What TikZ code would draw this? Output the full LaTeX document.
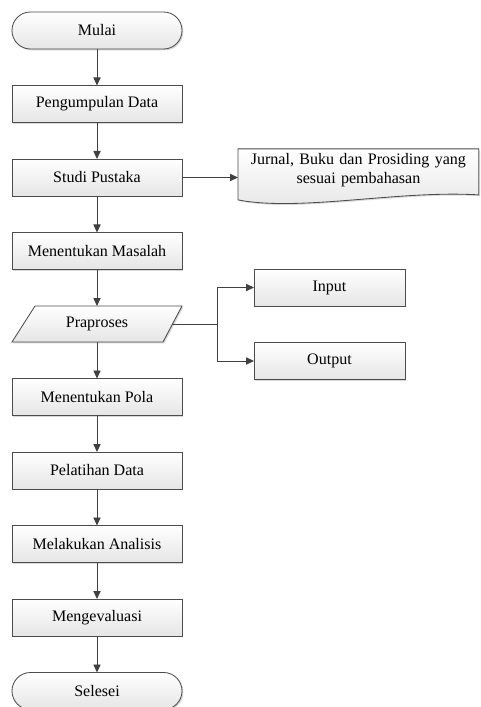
\documentclass[tikz,border=0pt]{standalone}
\usepackage{fontspec}
\setmainfont{Liberation Serif}
\usetikzlibrary{arrows.meta,positioning,backgrounds,shadows}

\begin{document}
\begin{tikzpicture}[
    node distance=9.125mm and 14mm,
    base/.style={draw=black!70, line width=0.6pt, align=center, minimum height=9.25mm,
        inner sep=1mm, outer sep=0pt, font=\fontsize{11.4}{13.6}\selectfont,
        top color=white, bottom color=black!10,
        drop shadow={shadow xshift=0.35mm, shadow yshift=-0.35mm, fill=black!30, opacity=0.5}},
    terminal/.style={base, minimum width=42.5mm, rounded corners=4.6mm},
    process/.style={base, minimum width=42.5mm},
    smallbox/.style={base, minimum width=37.75mm},
    iotext/.style={align=center, minimum width=42.5mm, minimum height=9mm, inner sep=0pt,
        outer sep=0pt, font=\fontsize{11.4}{13.6}\selectfont},
    docnode/.style={align=center, text width=56mm, minimum height=10.5mm, inner xsep=2.1mm,
        inner ysep=0pt, outer sep=0pt, font=\fontsize{11.4}{13.6}\selectfont},
    border/.style={draw=black!70, line width=0.6pt, top color=white, bottom color=black!10,
        drop shadow={shadow xshift=0.35mm, shadow yshift=-0.35mm, fill=black!30, opacity=0.5}},
    arrow/.style={-{Triangle[length=2mm, width=1.8mm]}, line width=0.7pt, draw=black!75}
]
\useasboundingbox (0,0) rectangle (120mm,-176.75mm);
\node[terminal] (mulai) at (24.25mm,-7.625mm) {Mulai};
\node[process, below=of mulai] (pengumpulan) {Pengumpulan Data};
\node[process, below=of pengumpulan] (studi) {Studi Pustaka};
\node[docnode, right=of studi, yshift=1.9mm] (jurnal) {Jurnal, Buku dan Prosiding yang\\sesuai pembahasan};
\node[process, below=of studi] (masalah) {Menentukan Masalah};
\node[iotext, below=9.125mm of masalah] (praproses) {Praproses};
\coordinate[right=8.75mm of praproses.east] (cabang);
\node[smallbox, right=9.25mm of cabang, yshift=9.125mm] (input) {Input};
\node[smallbox, right=9.25mm of cabang, yshift=-9.25mm] (output) {Output};
\node[process, below=9.125mm of praproses] (pola) {Menentukan Pola};
\node[process, below=of pola] (pelatihan) {Pelatihan Data};
\node[process, below=of pelatihan] (analisis) {Melakukan Analisis};
\node[process, below=of analisis] (evaluasi) {Mengevaluasi};
\node[terminal, below=of evaluasi] (selesai) {Selesei};
% shapes drawn behind the texts
\begin{scope}[on background layer]
\draw[border] ([yshift=-2.25mm]jurnal.south west) -- (jurnal.north west) -- (jurnal.north east)
    -- ([yshift=-1mm]jurnal.south east) .. controls +(-19.75mm,1.25mm) and +(15.5mm,-3mm)
    .. ([yshift=-2.25mm]jurnal.south west) -- cycle;
\draw[border] (praproses.south west) -- ([xshift=5.75mm]praproses.north west)
    -- (praproses.north east) -- ([xshift=-4.75mm]praproses.south east) -- cycle;
\end{scope}
\draw[arrow] (mulai) -- (pengumpulan);
\draw[arrow] (pengumpulan) -- (studi);
\draw[arrow] (studi.east) -- (studi.east -| jurnal.west);
\draw[arrow] (studi) -- (masalah);
\draw[arrow] (masalah) -- (praproses);
\draw[arrow] ([xshift=-2.4mm]praproses.east) -- (cabang) |- (input.west);
\draw[arrow] (cabang) |- (output.west);
\draw[arrow] (praproses) -- (pola);
\draw[arrow] (pola) -- (pelatihan);
\draw[arrow] (pelatihan) -- (analisis);
\draw[arrow] (analisis) -- (evaluasi);
\draw[arrow] (evaluasi) -- (selesai);
\end{tikzpicture}
\end{document}
